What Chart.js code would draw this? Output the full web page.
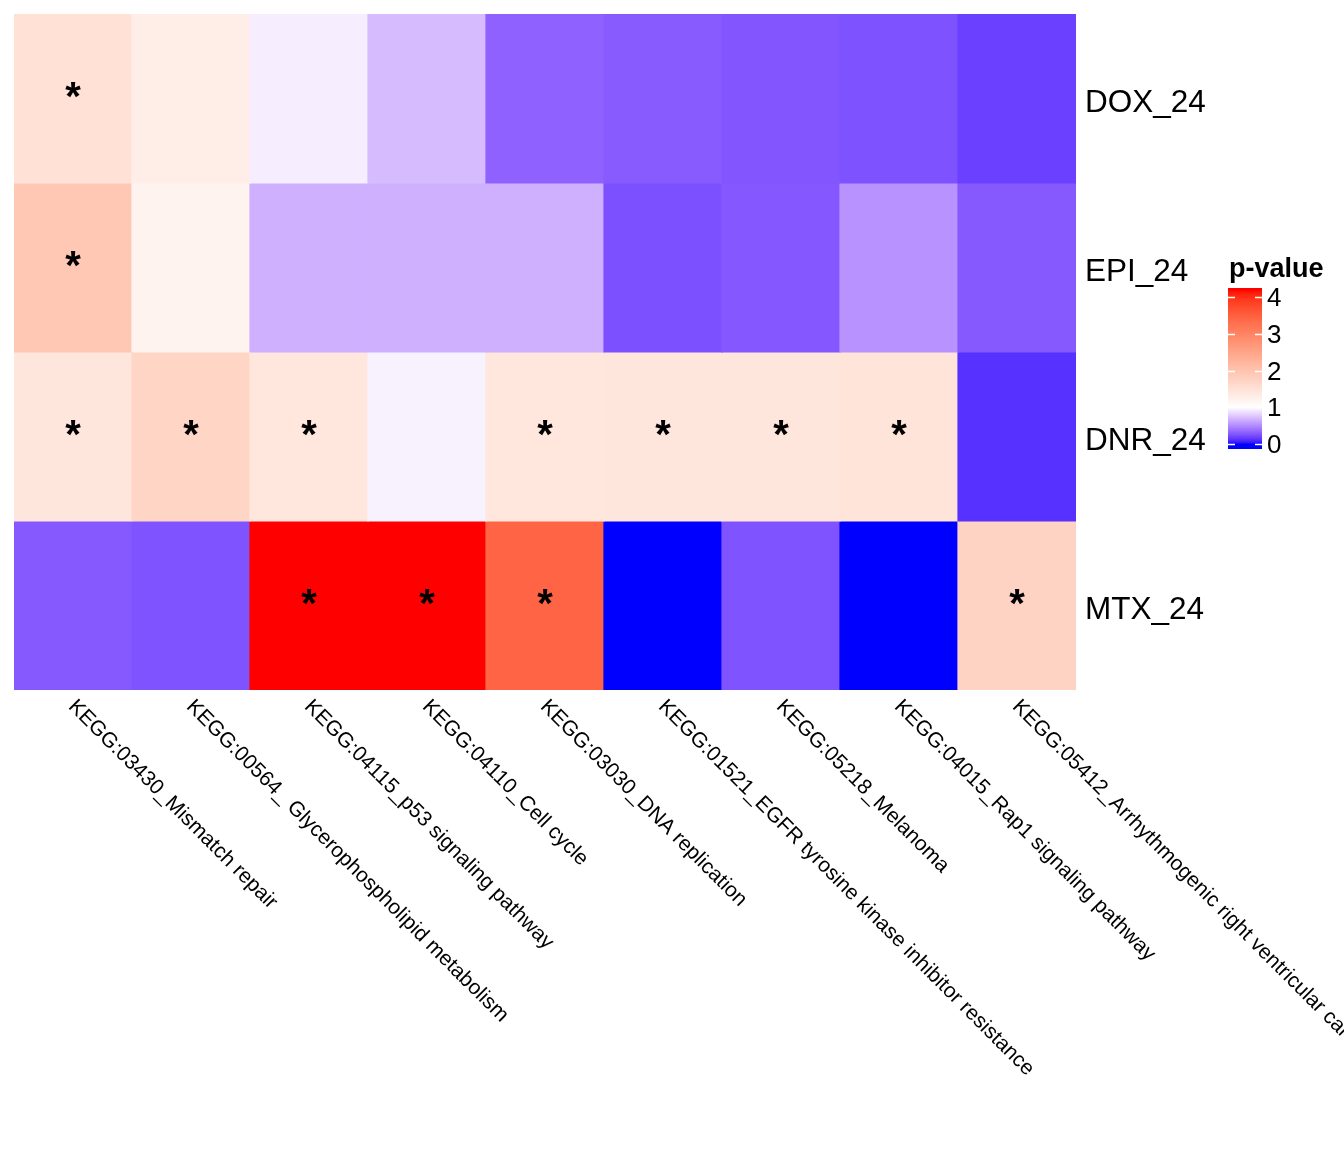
<!DOCTYPE html>
<html>
<head>
<meta charset="utf-8">
<script src="https://cdn.jsdelivr.net/npm/chart.js@4.4.1/dist/chart.umd.min.js"></script>
<style>
html,body{margin:0;padding:0;background:#fff;}
#wrap{width:1344px;height:1152px;position:relative;}
</style>
</head>
<body>
<div id="wrap"><canvas id="c" width="1344" height="1152"></canvas></div>
<script>
// ---- data ----
const pathways = [
  "KEGG:03430_Mismatch repair",
  "KEGG:00564_ Glycerophospholipid metabolism",
  "KEGG:04115_p53 signaling pathway",
  "KEGG:04110_Cell cycle",
  "KEGG:03030_DNA replication",
  "KEGG:01521_EGFR tyrosine kinase inhibitor resistance",
  "KEGG:05218_Melanoma",
  "KEGG:04015_Rap1 signaling pathway",
  "KEGG:05412_Arrhythmogenic right ventricular cardiomyopathy"
];
const samples = ["DOX_24", "EPI_24", "DNR_24", "MTX_24"];
const dox24 = [1.50, 1.28, 0.93, 0.71, 0.32, 0.29, 0.265, 0.25, 0.18];
const epi24 = [1.92, 1.20, 0.66, 0.66, 0.66, 0.245, 0.275, 0.53, 0.28];
const dnr24 = [1.42, 1.70, 1.40, 0.945, 1.40, 1.42, 1.42, 1.46, 0.12];
const mtx24 = [0.28, 0.255, 4.19, 4.19, 3.42, 0.0, 0.255, 0.0, 1.74];
const doxSig = [1, 0, 0, 0, 0, 0, 0, 0, 0];
const epiSig = [1, 0, 0, 0, 0, 0, 0, 0, 0];
const dnrSig = [1, 1, 1, 0, 1, 1, 1, 1, 0];
const mtxSig = [0, 0, 1, 1, 1, 0, 0, 0, 1];
const legendTicks = [0, 1, 2, 3, 4];
const scaleMin = 0, scaleMid = 1, scaleMax = 4.19;

const rowValues = [dox24, epi24, dnr24, mtx24];
const rowSig = [doxSig, epiSig, dnrSig, mtxSig];

// ---- colour scale (Lab interpolation blue - white - red) ----
function srgbToLin(c){c/=255;return c<=0.04045?c/12.92:Math.pow((c+0.055)/1.055,2.4);}
function linToSrgb(c){c=c<=0.0031308?12.92*c:1.055*Math.pow(c,1/2.4)-0.055;return Math.round(Math.max(0,Math.min(1,c))*255);}
function rgb2lab(r,g,b){
  r=srgbToLin(r);g=srgbToLin(g);b=srgbToLin(b);
  let X=(0.4124*r+0.3576*g+0.1805*b)/0.95047;
  let Y=(0.2126*r+0.7152*g+0.0722*b);
  let Z=(0.0193*r+0.1192*g+0.9505*b)/1.08883;
  const f=t=>t>0.008856?Math.cbrt(t):7.787*t+16/116;
  const fx=f(X),fy=f(Y),fz=f(Z);
  return [116*fy-16,500*(fx-fy),200*(fy-fz)];
}
function lab2rgb(L,a,bb){
  let fy=(L+16)/116,fx=fy+a/500,fz=fy-bb/200;
  const fi=t=>t*t*t>0.008856?t*t*t:(t-16/116)/7.787;
  let X=fi(fx)*0.95047,Y=fi(fy),Z=fi(fz)*1.08883;
  let r=3.2406*X-1.5372*Y-0.4986*Z;
  let g=-0.9689*X+1.8758*Y+0.0415*Z;
  let b=0.0557*X-0.2040*Y+1.0570*Z;
  return 'rgb('+linToSrgb(r)+','+linToSrgb(g)+','+linToSrgb(b)+')';
}
const LAB_LOW=rgb2lab(0,0,255), LAB_MID=rgb2lab(255,255,255), LAB_HIGH=rgb2lab(255,0,0);
function colorFor(v){
  let A,B,t;
  if(v<=scaleMid){A=LAB_LOW;B=LAB_MID;t=(v-scaleMin)/(scaleMid-scaleMin);}
  else{A=LAB_MID;B=LAB_HIGH;t=(v-scaleMid)/(scaleMax-scaleMid);}
  t=Math.max(0,Math.min(1,t));
  return lab2rgb(A[0]+(B[0]-A[0])*t,A[1]+(B[1]-A[1])*t,A[2]+(B[2]-A[2])*t);
}

// ---- datasets: one floating bar row per sample ----
const datasets = samples.map((s,i)=>({
  label:s,
  data: pathways.map(()=>[i,i+1]),
  backgroundColor: rowValues[i].map(colorFor),
  borderWidth:0,
  borderSkipped:false,
  inflateAmount:0.6,
  barPercentage:1,
  categoryPercentage:1
}));

const FONT='"Liberation Sans", Arial, sans-serif';

const overlay = {
  id:'overlay',
  afterDraw(chart){
    const ctx=chart.ctx, xs=chart.scales.x, ys=chart.scales.y, area=chart.chartArea;
    ctx.save();
    // stars
    ctx.fillStyle='#000';
    ctx.font='bold 40px '+FONT;
    ctx.textAlign='center';ctx.textBaseline='middle';
    chart.data.datasets.forEach((ds,i)=>{
      const meta=chart.getDatasetMeta(i);
      meta.data.forEach((el,j)=>{
        if(rowSig[i][j]){
          ctx.fillText('*', el.x, (el.y+el.base)/2);
        }
      });
    });
    // row labels
    ctx.font='31.5px '+FONT;
    ctx.textAlign='left';ctx.textBaseline='middle';
    samples.forEach((s,i)=>{
      ctx.fillText(s, area.right+9, ys.getPixelForValue(i+0.5)+5);
    });
    // column labels rotated
    ctx.font='21px '+FONT;
    ctx.textAlign='left';ctx.textBaseline='top';
    pathways.forEach((p,j)=>{
      const x=xs.getPixelForValue(j);
      ctx.save();
      ctx.translate(x+6, area.bottom+6);
      ctx.rotate(Math.PI/4);
      ctx.fillText(p,0,0);
      ctx.restore();
    });
    // legend colourbar
    const bx=1228,bw=34,yTop=288,yBot=449;
    const vTopPix=297,vBotPix=444; // pixel positions of 4 and 0
    const perUnit=(vBotPix-vTopPix)/4;
    const valToY=v=>vBotPix-(v-0)*perUnit;
    for(let y=yTop;y<yBot;y++){
      const v=(vBotPix-(y+0.5))/perUnit;
      ctx.fillStyle=colorFor(v);
      ctx.fillRect(bx,y,bw,1);
    }
    ctx.strokeStyle='#fff';ctx.lineWidth=1.5;
    legendTicks.forEach(t=>{
      const y=Math.round(valToY(t))+0.5;
      ctx.beginPath();ctx.moveTo(bx,y);ctx.lineTo(bx+7,y);ctx.stroke();
      ctx.beginPath();ctx.moveTo(bx+bw-7,y);ctx.lineTo(bx+bw,y);ctx.stroke();
    });
    ctx.fillStyle='#000';
    ctx.font='26px '+FONT;
    ctx.textAlign='left';ctx.textBaseline='middle';
    legendTicks.forEach(t=>{
      ctx.fillText(String(t), bx+bw+5, valToY(t)+2);
    });
    ctx.font='bold 27px '+FONT;
    ctx.textBaseline='alphabetic';
    ctx.fillText('p-value', 1229, 277);
    ctx.restore();
  }
};

new Chart(document.getElementById('c'),{
  type:'bar',
  data:{labels:pathways,datasets},
  options:{
    responsive:false,
    animation:false,
    devicePixelRatio:1,
    layout:{padding:{left:14,top:14,right:268,bottom:462}},
    plugins:{legend:{display:false},tooltip:{enabled:false}},
    scales:{
      x:{type:'category',stacked:true,display:false,offset:true},
      y:{type:'linear',min:0,max:4,reverse:true,display:false}
    }
  },
  plugins:[overlay]
});
</script>
</body>
</html>
